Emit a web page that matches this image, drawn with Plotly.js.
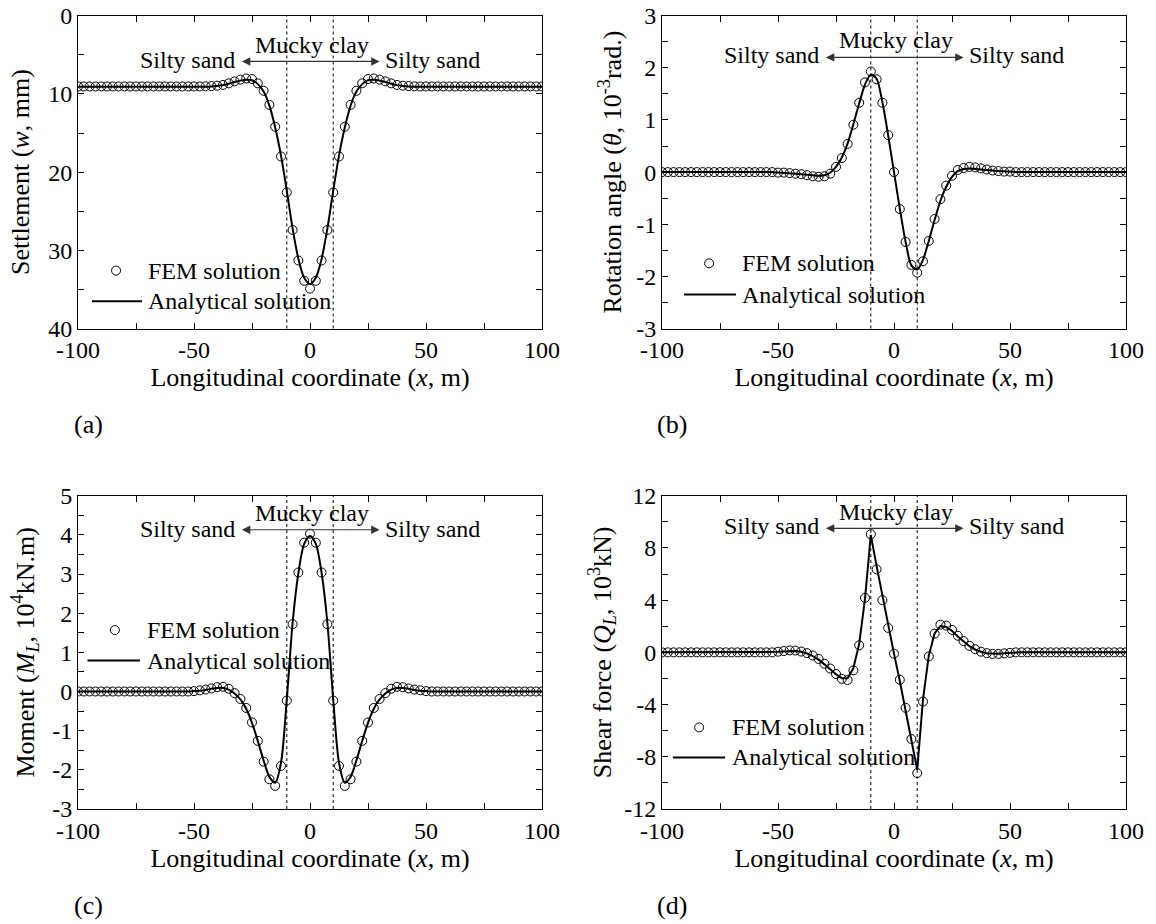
<!DOCTYPE html>
<html><head><meta charset="utf-8">
<script src="https://cdn.plot.ly/plotly-3.0.1.min.js"></script>
<style>html,body{margin:0;padding:0;background:#fff}#chart{width:1156px;height:924px}</style>
</head><body><div id="chart"></div>
<script>
const xCoord = [-100,-97.5,-95,-92.5,-90,-87.5,-85,-82.5,-80,-77.5,-75,-72.5,-70,-67.5,-65,-62.5,-60,-57.5,-55,-52.5,
-50,-47.5,-45,-42.5,-40,-37.5,-35,-32.5,-30,-27.5,-25,-22.5,-20,-17.5,-15,-12.5,-10,-7.5,-5,-2.5,
0,2.5,5,7.5,10,12.5,15,17.5,20,22.5,25,27.5,30,32.5,35,37.5,40,42.5,45,47.5,
50,52.5,55,57.5,60,62.5,65,67.5,70,72.5,75,77.5,80,82.5,85,87.5,90,92.5,95,97.5,100];

const settlementFEM = [9.05,9.05,9.05,9.05,9.05,9.05,9.05,9.05,9.05,9.05,9.05,9.05,9.05,9.05,9.05,9.05,9.05,9.05,9.05,9.05,
9.05,9.05,9.03,9.0,8.95,8.85,8.65,8.4,8.18,8.03,8.1,8.65,9.6,11.4,14.2,18.0,22.6,27.4,31.3,33.9,
34.9,33.9,31.3,27.4,22.6,18.0,14.2,11.4,9.6,8.65,8.1,8.03,8.18,8.4,8.65,8.85,8.95,9.0,9.03,9.05,
9.05,9.05,9.05,9.05,9.05,9.05,9.05,9.05,9.05,9.05,9.05,9.05,9.05,9.05,9.05,9.05,9.05,9.05,9.05,9.05,9.05];
const settlementAna = [9.08,9.08,9.08,9.08,9.08,9.08,9.08,9.08,9.08,9.08,9.08,9.08,9.08,9.08,9.08,9.08,9.08,9.08,9.08,9.08,
9.08,9.08,9.07,9.04,8.98,8.88,8.7,8.48,8.3,8.2,8.25,8.75,9.7,11.5,14.3,17.9,22.4,27.2,31.1,33.5,
34.3,33.5,31.1,27.2,22.4,17.9,14.3,11.5,9.7,8.75,8.25,8.2,8.3,8.48,8.7,8.88,8.98,9.04,9.07,9.08,
9.08,9.08,9.08,9.08,9.08,9.08,9.08,9.08,9.08,9.08,9.08,9.08,9.08,9.08,9.08,9.08,9.08,9.08,9.08,9.08,9.08];

const rotationFEM = [0,0,0,0,0,0,0,0,0,0,0,0,0,0,0,0,0,0,0,0,
-0.01,-0.01,-0.02,-0.03,-0.04,-0.06,-0.08,-0.09,-0.08,-0.03,0.10,0.27,0.54,0.91,1.33,1.72,1.93,1.78,1.33,0.71,
0.0,-0.71,-1.34,-1.78,-1.93,-1.71,-1.32,-0.90,-0.52,-0.26,-0.07,0.04,0.08,0.10,0.09,0.07,0.05,0.03,0.02,0.01,
0.01,0,0,0,0,0,0,0,0,0,0,0,0,0,0,0,0,0,0,0,0];
const rotationAna = [0,0,0,0,0,0,0,0,0,0,0,0,0,0,0,0,0,0,0,0,
-0.01,-0.015,-0.02,-0.03,-0.04,-0.05,-0.06,-0.07,-0.06,-0.01,0.10,0.28,0.55,0.92,1.32,1.68,1.87,1.79,1.34,0.70,
0.0,-0.70,-1.34,-1.79,-1.87,-1.68,-1.32,-0.92,-0.55,-0.28,-0.09,0.02,0.06,0.07,0.06,0.05,0.04,0.03,0.02,0.015,
0.01,0,0,0,0,0,0,0,0,0,0,0,0,0,0,0,0,0,0,0,0];

const momentFEM = [0,0,0,0,0,0,0,0,0,0,0,0,0,0,0,0,0,0,0,0,
0.01,0.03,0.05,0.08,0.11,0.12,0.07,-0.04,-0.19,-0.42,-0.79,-1.26,-1.79,-2.24,-2.41,-1.90,-0.23,1.72,3.04,3.80,
4.03,3.80,3.04,1.72,-0.23,-1.90,-2.41,-2.24,-1.79,-1.26,-0.79,-0.42,-0.19,-0.04,0.07,0.12,0.11,0.08,0.05,0.03,
0.01,0,0,0,0,0,0,0,0,0,0,0,0,0,0,0,0,0,0,0,0];
const momentAna = [0,0,0,0,0,0,0,0,0,0,0,0,0,0,0,0,0,0,0,0,
0.01,0.02,0.04,0.07,0.09,0.09,0.05,-0.05,-0.2,-0.44,-0.8,-1.26,-1.76,-2.18,-2.33,-1.82,-0.2,1.75,3.03,3.77,
3.97,3.77,3.03,1.75,-0.2,-1.82,-2.33,-2.18,-1.76,-1.26,-0.8,-0.44,-0.2,-0.05,0.05,0.09,0.09,0.07,0.04,0.02,
0.01,0,0,0,0,0,0,0,0,0,0,0,0,0,0,0,0,0,0,0,0];

const shearFEM = [0,0,0,0,0,0,0,0,0,0,0,0,0,0,0,0,0,0,0,0,
0.05,0.1,0.15,0.14,0.06,-0.06,-0.24,-0.5,-0.87,-1.24,-1.66,-2.03,-2.12,-1.38,0.54,4.18,9.05,6.36,4.0,1.87,
-0.1,-2.1,-4.25,-6.64,-9.25,-3.77,-0.31,1.43,2.12,2.05,1.72,1.27,0.86,0.5,0.24,0.05,-0.06,-0.12,-0.12,-0.08,
-0.04,0,0,0,0,0,0,0,0,0,0,0,0,0,0,0,0,0,0,0,0];
const shearAna = [0,0,0,0,0,0,0,0,0,0,0,0,0,0,0,0,0,0,0,0,
0.04,0.07,0.1,0.1,0.04,-0.08,-0.28,-0.56,-0.92,-1.3,-1.68,-1.98,-1.98,-1.2,0.65,4.1,9.0,6.6,4.3,2.0,
-0.1,-2.2,-4.4,-6.7,-9.0,-3.6,-0.25,1.45,2.02,1.95,1.65,1.22,0.82,0.47,0.22,0.04,-0.07,-0.1,-0.1,-0.06,
-0.03,0,0,0,0,0,0,0,0,0,0,0,0,0,0,0,0,0,0,0,0];

const boundaries = [-10, 10];
const arrowEnds = [-30, 30];

const xTickVals = [-100,-50,0,50,100];
const xTickText = ['-100','-50','0','50','100'];
const yTickValsA = [0,10,20,30,40];
const yTickTextA = ['0','10','20','30','40'];
const yTickValsB = [-3,-2,-1,0,1,2,3];
const yTickTextB = ['-3','-2','-1','0','1','2','3'];
const yTickValsC = [-3,-2,-1,0,1,2,3,4,5];
const yTickTextC = ['-3','-2','-1','0','1','2','3','4','5'];
const yTickValsD = [-12,-8,-4,0,4,8,12];
const yTickTextD = ['-12','-8','-4','0','4','8','12'];

const labels = {
  fem: 'FEM solution', ana: 'Analytical solution',
  xTitle: 'Longitudinal coordinate (<i>x</i>, m)',
  clay: 'Mucky clay', sand: 'Silty sand'
};

const FONT = 'Liberation Serif';
const W = 1156, H = 924;

// layout settings per panel (pixel boxes and label placements)
const panels = [
  {id:'', fem:settlementFEM, ana:settlementAna, range:[40,0], tv:yTickValsA, tt:yTickTextA, minor:5,
   yTitle:'Settlement (<i>w</i>, mm)', box:[78,542,15.7,328.5], standoff:11, tag:'(a)', tagY:425,
   arrowY:5.85, sandY:5.7, clayY:3.75, leg:{cx:-83.6, fy:32.6, lx0:-94, lx1:-72.4, ly:36.5, tx:-70.5}},
  {id:'2', fem:rotationFEM, ana:rotationAna, range:[-3,3], tv:yTickValsB, tt:yTickTextB, minor:0.5,
   yTitle:'Rotation angle (<i>θ</i>, 10<sup>-3</sup>rad.)', box:[662,1126,15.7,328.5], standoff:7, tag:'(b)', tagY:425,
   arrowY:2.2, sandY:2.25, clayY:2.53, leg:{cx:-79.7, fy:-1.75, lx0:-90.5, lx1:-68.1, ly:-2.35, tx:-66.5}},
  {id:'3', fem:momentFEM, ana:momentAna, range:[-3,5], tv:yTickValsC, tt:yTickTextC, minor:0.5,
   yTitle:'Moment (<i>M<sub>L</sub></i>, 10<sup>4</sup>kN.m)', box:[78,542,495.7,809], standoff:10, tag:'(c)', tagY:905,
   arrowY:4.13, sandY:4.15, clayY:4.55, leg:{cx:-84.1, fy:1.57, lx0:-95.9, lx1:-73.3, ly:0.79, tx:-71.3}},
  {id:'4', fem:shearFEM, ana:shearAna, range:[-12,12], tv:yTickValsD, tt:yTickTextD, minor:2,
   yTitle:'Shear force (<i>Q<sub>L</sub></i>, 10<sup>3</sup>kN)', box:[662,1126,495.7,809], standoff:5, tag:'(d)', tagY:905,
   arrowY:9.5, sandY:9.68, clayY:10.77, leg:{cx:-84, fy:-5.75, lx0:-95.3, lx1:-72.8, ly:-8.05, tx:-70.8}}
];

const traces = [];
const layout = {
  width: W, height: H, margin:{l:0,r:0,t:0,b:0}, paper_bgcolor:'#fff', plot_bgcolor:'#fff',
  showlegend:false, font:{family:FONT, color:'#000', size:24},
  shapes:[], annotations:[]
};

panels.forEach((p, i) => {
  const xa = 'x' + p.id, ya = 'y' + p.id;
  traces.push({x:xCoord, y:p.fem, xaxis:xa, yaxis:ya, type:'scatter', mode:'markers', name:labels.fem,
    marker:{symbol:'circle-open', size:9, color:'#000', line:{width:1, color:'#000'}}, hoverinfo:'x+y'});
  traces.push({x:xCoord, y:p.ana, xaxis:xa, yaxis:ya, type:'scatter', mode:'lines', name:labels.ana,
    line:{color:'#000', width:2, shape: i===3 ? 'linear' : 'spline', smoothing:0.8}});

  const common = {ticks:'inside', ticklen:6, tickwidth:1, tickcolor:'#000', showline:true, linecolor:'#000',
    linewidth:1, mirror:'ticks', showgrid:false, zeroline:false, tickmode:'array', automargin:false,
    tickfont:{family:FONT, size:24, color:'#000'}};
  layout['xaxis' + p.id] = Object.assign({}, common, {
    domain:[p.box[0]/W, p.box[1]/W], anchor:ya, range:[-100,100], tickvals:xTickVals, ticktext:xTickText,
    minor:{dtick:25, tick0:0, ticks:'inside', ticklen:6, tickwidth:1, tickcolor:'#000', showgrid:false},
    title:{text:labels.xTitle, font:{family:FONT, size:26, color:'#000'}, standoff:2}});
  layout['yaxis' + p.id] = Object.assign({}, common, {
    domain:[1 - p.box[3]/H, 1 - p.box[2]/H], anchor:xa, range:p.range, tickvals:p.tv, ticktext:p.tt,
    minor:{dtick:p.minor, tick0:0, ticks:'inside', ticklen:6, tickwidth:1, tickcolor:'#000', showgrid:false},
    title:{text:p.yTitle, font:{family:FONT, size:26, color:'#000'}, standoff:p.standoff}});

  boundaries.forEach(b => layout.shapes.push({type:'line', xref:xa, yref:ya + ' domain', x0:b, x1:b, y0:0, y1:1,
    line:{color:'#000', width:1, dash:'3px,3px'}}));

  // arrow
  layout.annotations.push({xref:xa, yref:ya, axref:xa, ayref:ya, x:arrowEnds[1], y:p.arrowY, ax:arrowEnds[0], ay:p.arrowY,
    text:'', showarrow:true, arrowhead:2, arrowsize:1.4, arrowwidth:1.2, arrowcolor:'#333', arrowside:'end+start',
    startarrowhead:2, startarrowsize:1.4, standoff:0, startstandoff:0});
  layout.annotations.push({xref:xa, yref:ya, x:1, y:p.clayY, text:labels.clay, showarrow:false,
    xanchor:'center', yanchor:'middle', font:{family:FONT, size:24, color:'#000'}});
  layout.annotations.push({xref:xa, yref:ya, x:arrowEnds[0]-1.5, y:p.sandY, text:labels.sand, showarrow:false,
    xanchor:'right', yanchor:'middle', font:{family:FONT, size:24, color:'#000'}});
  layout.annotations.push({xref:xa, yref:ya, x:arrowEnds[1]+1.5, y:p.sandY, text:labels.sand, showarrow:false,
    xanchor:'left', yanchor:'middle', font:{family:FONT, size:24, color:'#000'}});

  // legend samples
  layout.shapes.push({type:'circle', xref:xa, yref:ya, xsizemode:'pixel', ysizemode:'pixel',
    xanchor:p.leg.cx, yanchor:p.leg.fy, x0:-4.5, x1:4.5, y0:-4.5, y1:4.5, line:{color:'#000', width:1}});
  layout.shapes.push({type:'line', xref:xa, yref:ya, x0:p.leg.lx0, x1:p.leg.lx1, y0:p.leg.ly, y1:p.leg.ly,
    line:{color:'#000', width:2}});
  layout.annotations.push({xref:xa, yref:ya, x:p.leg.tx, y:p.leg.fy, text:labels.fem, showarrow:false,
    xanchor:'left', yanchor:'middle', font:{family:FONT, size:24, color:'#000'}});
  layout.annotations.push({xref:xa, yref:ya, x:p.leg.tx, y:p.leg.ly, text:labels.ana, showarrow:false,
    xanchor:'left', yanchor:'middle', font:{family:FONT, size:24, color:'#000'}});

  // panel tag
  layout.annotations.push({xref:'paper', yref:'paper', x:(p.box[0]+10)/W, y:1 - p.tagY/H, text:p.tag, showarrow:false,
    xanchor:'center', yanchor:'middle', font:{family:FONT, size:26, color:'#000'}});
});

Plotly.newPlot('chart', traces, layout, {displayModeBar:false, staticPlot:true});
</script>
</body></html>
